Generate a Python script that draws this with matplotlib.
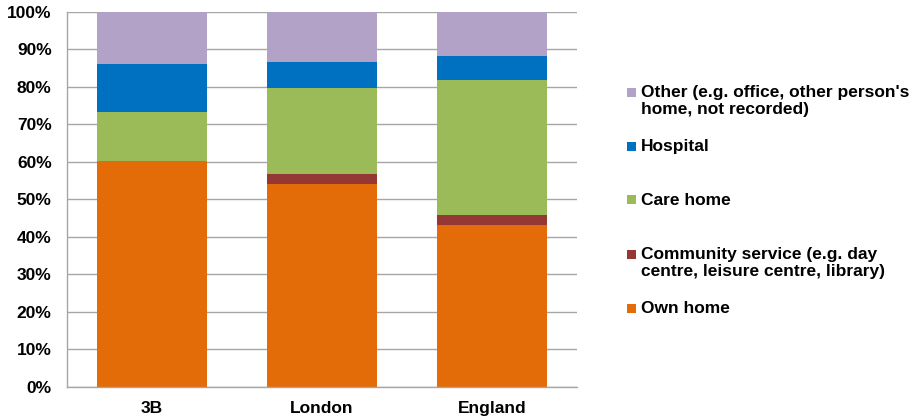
import matplotlib
matplotlib.use("Agg")
import matplotlib.pyplot as plt
from matplotlib.patches import Rectangle
import numpy as np

categories = ["3B", "London", "England"]
own_home = [60.2, 54.0, 43.2]
community = [0.0, 2.8, 2.5]
care_home = [13.2, 23.0, 36.2]
hospital = [12.8, 6.8, 6.4]
other = [13.8, 13.4, 11.7]

series_names = ["Own home",
                "Community service (e.g. day\ncentre, leisure centre, library)",
                "Care home",
                "Hospital",
                "Other (e.g. office, other person's\nhome, not recorded)"]
series_values = [own_home, community, care_home, hospital, other]
colors = ["#E36C09", "#953735", "#9BBB59", "#0070C0", "#B3A2C7"]

plt.rcParams['font.family'] = ['Liberation Sans', 'DejaVu Sans']
plt.rcParams['font.weight'] = 'bold'
FS = 12.5

fig = plt.figure(figsize=(9.21, 4.19), dpi=100)
ax = fig.add_axes([0.0727, 0.0771, 0.5538, 0.8943])

x = np.arange(len(categories))
bottom = np.zeros(len(categories))
for name, vals, c in zip(series_names, series_values, colors):
    ax.bar(x, vals, bottom=bottom, width=0.647, color=c, linewidth=0, zorder=2)
    bottom += np.array(vals)

ax.set_xlim(-0.5, len(categories) - 0.5)
ax.set_ylim(0, 100)
ax.set_yticks(np.arange(0, 101, 10))
ax.set_yticklabels([f"{v}%" for v in range(0, 101, 10)], fontsize=FS, fontweight='bold')
ax.set_xticks(x)
ax.set_xticklabels(categories, fontsize=FS, fontweight='bold')
ax.tick_params(axis='y', length=0, pad=11)
ax.tick_params(axis='x', length=0, pad=10)
ax.yaxis.grid(True, color='#A6A6A6', linewidth=1, zorder=0)
ax.set_axisbelow(True)
for s in ['top', 'right']:
    ax.spines[s].set_visible(False)
for s in ['left', 'bottom']:
    ax.spines[s].set_color('#A6A6A6')
    ax.spines[s].set_linewidth(1)

# Legend (Excel-like, evenly spaced slots, marker aligned with first line)
W, H = 921, 419
y0 = 92
step = 54
order = list(range(len(series_names)))[::-1]
for i, idx in enumerate(order):
    yc = y0 + i * step
    fig.patches.append(Rectangle(((627) / W, 1 - (yc + 4.5) / H), 9 / W, 9 / H,
                                 transform=fig.transFigure, facecolor=colors[idx],
                                 edgecolor='none'))
    fig.text(641 / W, 1 - (yc - 7) / H, series_names[idx], fontsize=FS,
             fontweight='bold', va='top', ha='left', color='black',
             linespacing=1.2)

fig.savefig("out.png", dpi=100)
